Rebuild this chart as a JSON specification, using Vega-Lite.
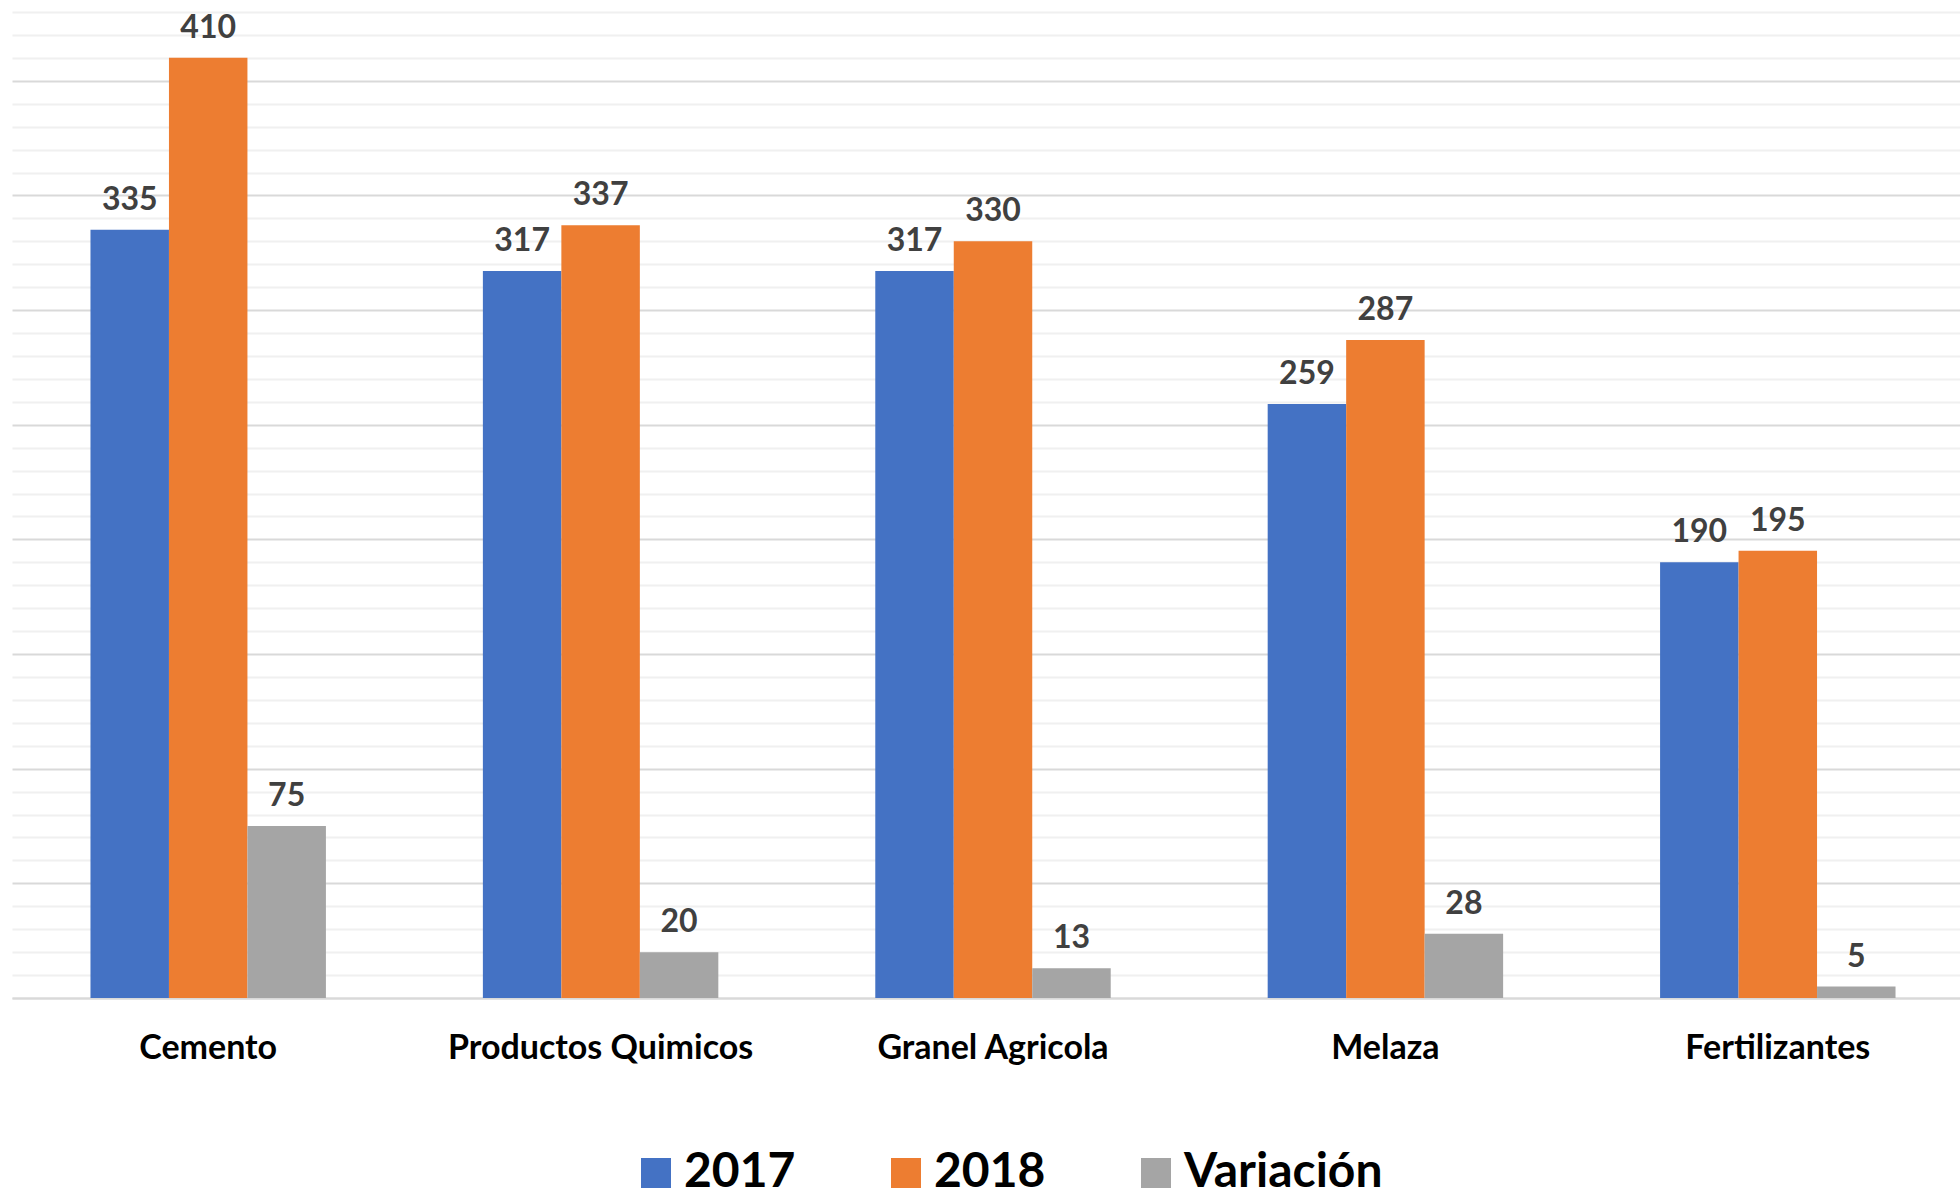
{
  "$schema": "https://vega.github.io/schema/vega-lite/v6.json",
  "width": 1962,
  "height": 986,
  "padding": {"left": 12, "top": 11, "right": 0, "bottom": 0},
  "background": "white",
  "data": {
    "values": [
      {"categoria": "Cemento", "serie": "2017", "valor": 335},
      {"categoria": "Cemento", "serie": "2018", "valor": 410},
      {"categoria": "Cemento", "serie": "Variación", "valor": 75},
      {"categoria": "Productos Quimicos", "serie": "2017", "valor": 317},
      {"categoria": "Productos Quimicos", "serie": "2018", "valor": 337},
      {"categoria": "Productos Quimicos", "serie": "Variación", "valor": 20},
      {"categoria": "Granel Agricola", "serie": "2017", "valor": 317},
      {"categoria": "Granel Agricola", "serie": "2018", "valor": 330},
      {"categoria": "Granel Agricola", "serie": "Variación", "valor": 13},
      {"categoria": "Melaza", "serie": "2017", "valor": 259},
      {"categoria": "Melaza", "serie": "2018", "valor": 287},
      {"categoria": "Melaza", "serie": "Variación", "valor": 28},
      {"categoria": "Fertilizantes", "serie": "2017", "valor": 190},
      {"categoria": "Fertilizantes", "serie": "2018", "valor": 195},
      {"categoria": "Fertilizantes", "serie": "Variación", "valor": 5}
    ]
  },
  "encoding": {
    "x": {
      "field": "categoria",
      "type": "nominal",
      "sort": ["Cemento", "Productos Quimicos", "Granel Agricola", "Melaza", "Fertilizantes"],
      "scale": {"paddingInner": 0.4, "paddingOuter": 0.2},
      "axis": {
        "title": null,
        "labelAngle": 0,
        "ticks": false,
        "labelPadding": 33,
        "labelLimit": 600,
        "labelFont": "Lato",
        "labelFontWeight": "bold",
        "labelFontSize": 34,
        "labelColor": "#000000",
        "domainColor": "#d9d9d9",
        "domainWidth": 2,
        "grid": false
      }
    },
    "xOffset": {"field": "serie", "type": "nominal", "sort": ["2017", "2018", "Variación"], "scale": {"paddingInner": 0}},
    "y": {
      "field": "valor",
      "type": "quantitative",
      "scale": {"domain": [0, 430], "nice": false, "zero": true},
      "axis": {
        "title": null,
        "labels": false,
        "ticks": false,
        "domain": false,
        "values": [0,10,20,30,40,50,60,70,80,90,100,110,120,130,140,150,160,170,180,190,200,210,220,230,240,250,260,270,280,290,300,310,320,330,340,350,360,370,380,390,400,410,420,430],
        "grid": true,
        "gridWidth": 2,
        "gridColor": {"condition": {"test": "datum.value % 50 === 0", "value": "#d9d9d9"}, "value": "#f0f0f0"}
      }
    }
  },
  "layer": [
    {
      "mark": {"type": "bar"},
      "encoding": {
        "color": {
          "field": "serie",
          "type": "nominal",
          "sort": ["2017", "2018", "Variación"],
          "scale": {"domain": ["2017", "2018", "Variación"], "range": ["#4472C4", "#ED7D31", "#A5A5A5"]},
          "legend": {
            "title": null,
            "orient": "none",
            "direction": "horizontal",
            "legendX": 620,
            "legendY": 1137,
            "symbolType": "square",
            "symbolSize": 900,
            "symbolStrokeWidth": 0,
            "labelFont": "Lato",
            "labelFontWeight": "bold",
            "labelFontSize": 48,
            "labelColor": "#000000",
            "labelOffset": 4,
            "columnPadding": 86,
            "labelLimit": 400
          }
        }
      }
    },
    {
      "mark": {"type": "text", "baseline": "alphabetic", "dy": -20, "font": "Lato", "fontWeight": "bold", "fontSize": 32, "color": "#404040"},
      "encoding": {
        "text": {"field": "valor", "type": "quantitative"}
      }
    }
  ],
  "config": {
    "view": {"stroke": null},
    "legend": {"padding": 0}
  }
}
